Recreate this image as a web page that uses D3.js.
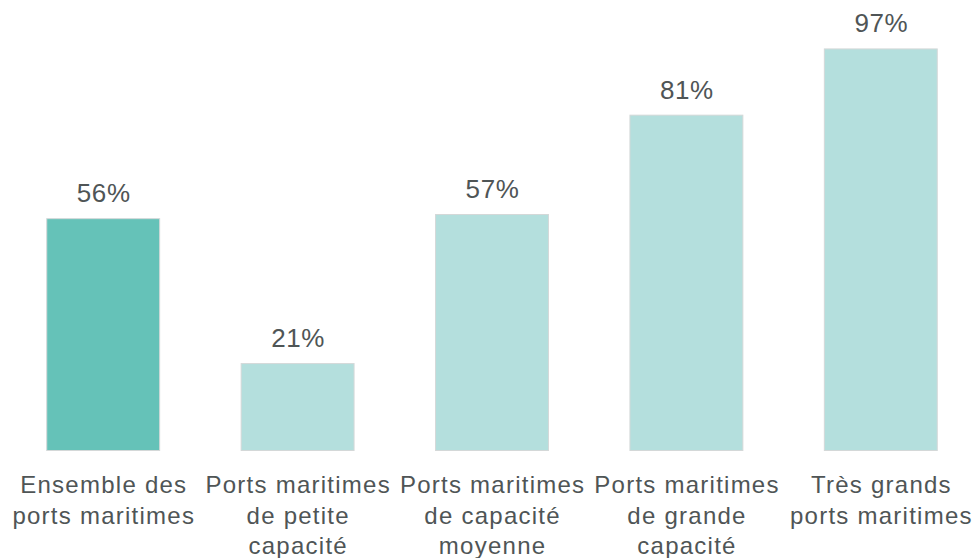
<!DOCTYPE html>
<html>
<head>
<meta charset="utf-8">
<script src="https://cdn.jsdelivr.net/npm/d3@7"></script>
<style>
  body { margin: 0; background: #fff; }
  text { font-family: "Liberation Sans", Arial, sans-serif; fill: #4f5556; }
</style>
</head>
<body>
<div class="barChart"></div>
<script>
// categories, split on line breaks like the original labels
const categories = [
  "Ensemble des|ports maritimes",
  "Ports maritimes|de petite|capacité",
  "Ports maritimes|de capacité|moyenne",
  "Ports maritimes|de grande|capacité",
  "Très grands|ports maritimes"
];
const values = [56, 21, 57, 81, 97];
const highlighted = [true, false, false, false, false];

const width = 977;
const height = 558;

let svg = d3.select(".barChart")
  .append("svg")
  .attr("width", width)
  .attr("height", height);

let x = d3.scaleBand()
  .domain(categories)
  .range([6, 978])
  .paddingInner(0.414)
  .paddingOuter(0.207);

let y = d3.scaleLinear()
  .domain([0, 100])
  .range([450, 36]);

svg.selectAll("rect.bar")
  .data(values)
  .enter()
  .append("rect")
  .attr("class", "bar")
  .attr("x", (d, i) => x(categories[i]) + 0.5)
  .attr("y", d => y(d) + 0.5)
  .attr("width", x.bandwidth() - 1)
  .attr("height", d => y(0) - y(d))
  .attr("fill", (d, i) => highlighted[i] ? "#65c2b8" : "#b4dfdd")
  .attr("stroke", "#d4d8d8")
  .attr("stroke-width", 1);

svg.selectAll("text.value")
  .data(values)
  .enter()
  .append("text")
  .attr("class", "value")
  .attr("x", (d, i) => x(categories[i]) + x.bandwidth() / 2 + 0.5)
  .attr("y", d => y(d) - 16)
  .attr("text-anchor", "middle")
  .attr("font-size", 26)
  .attr("letter-spacing", 0.6)
  .text(d => d + "%");

let labels = svg.selectAll("text.cat")
  .data(categories)
  .enter()
  .append("text")
  .attr("class", "cat")
  .attr("text-anchor", "middle")
  .attr("font-size", 24)
  .attr("letter-spacing", 1.25)
  .attr("transform", d => "translate(" + (x(d) + x.bandwidth() / 2 + 0.6) + ",493)");

labels.selectAll("tspan")
  .data(d => d.split("|"))
  .enter()
  .append("tspan")
  .attr("x", 0)
  .attr("dy", (d, i) => i === 0 ? 0 : 30.5)
  .text(d => d);
</script>
</body>
</html>
